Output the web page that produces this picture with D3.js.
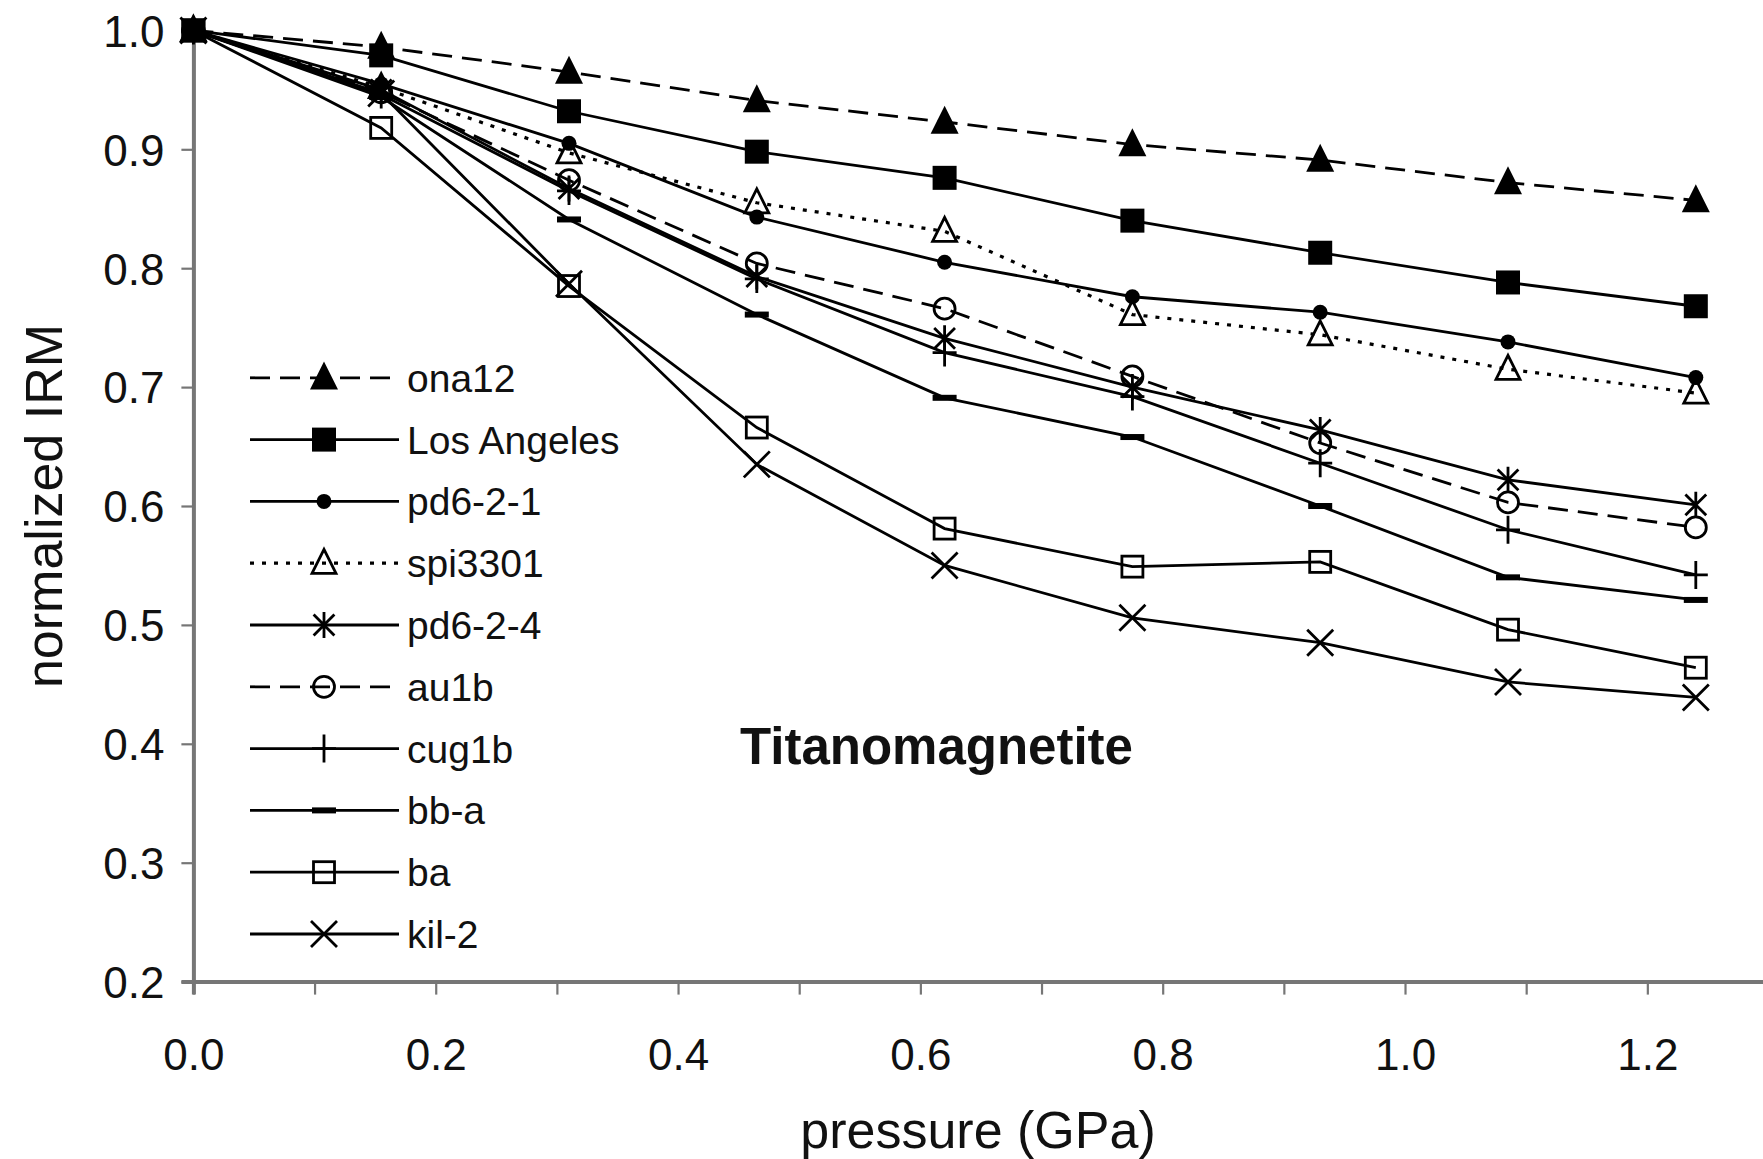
<!DOCTYPE html>
<html><head><meta charset="utf-8">
<script src="https://cdn.jsdelivr.net/npm/d3@7"></script>
<style>
html,body{margin:0;padding:0;background:#fff;}
svg text{font-family:"Liberation Sans",Arial,Helvetica,sans-serif;fill:#111;}
</style></head>
<body>
<svg id="chart" width="1763" height="1159"></svg>
<script>
// ---- data ----
const pressure = [0, 0.155, 0.31, 0.465, 0.62, 0.775, 0.93, 1.085, 1.24];
const seriesNames = ["ona12","Los Angeles","pd6-2-1","spi3301","pd6-2-4","au1b","cug1b","bb-a","ba","kil-2"];
const ona12      = [1.0, 0.986, 0.965, 0.941, 0.923, 0.904, 0.891, 0.872, 0.857];
const losAngeles = [1.0, 0.979, 0.932, 0.898, 0.876, 0.840, 0.813, 0.788, 0.768];
const pd6_2_1    = [1.0, 0.955, 0.905, 0.843, 0.805, 0.776, 0.763, 0.738, 0.708];
const spi3301    = [1.0, 0.952, 0.897, 0.855, 0.831, 0.761, 0.744, 0.715, 0.695];
const pd6_2_4    = [1.0, 0.950, 0.867, 0.793, 0.741, 0.700, 0.664, 0.622, 0.601];
const au1b       = [1.0, 0.948, 0.874, 0.804, 0.766, 0.709, 0.653, 0.603, 0.582];
const cug1b      = [1.0, 0.946, 0.865, 0.791, 0.729, 0.692, 0.636, 0.580, 0.542];
const bb_a       = [1.0, 0.944, 0.841, 0.761, 0.691, 0.658, 0.600, 0.540, 0.521];
const ba         = [1.0, 0.918, 0.785, 0.666, 0.581, 0.549, 0.553, 0.496, 0.464];
const kil_2      = [1.0, 0.947, 0.787, 0.635, 0.550, 0.506, 0.485, 0.452, 0.439];
const xTicks = [0, 0.2, 0.4, 0.6, 0.8, 1.0, 1.2];
const xMinorTicks = [0,0.1,0.2,0.3,0.4,0.5,0.6,0.7,0.8,0.9,1.0,1.1,1.2];
const yTicks = [0.2,0.3,0.4,0.5,0.6,0.7,0.8,0.9,1.0];
const xTitle = "pressure (GPa)";
const yTitle = "normalized IRM";
const chartLabel = "Titanomagnetite";

const values = [ona12, losAngeles, pd6_2_1, spi3301, pd6_2_4, au1b, cug1b, bb_a, ba, kil_2];
// styles per series
const styles = [
  {dash:"20,10", marker:"triFill"},
  {dash:null, marker:"sqFill"},
  {dash:null, marker:"circFill"},
  {dash:"4,8", marker:"triOpen"},
  {dash:null, marker:"star"},
  {dash:"20,10", marker:"circOpen"},
  {dash:null, marker:"plus"},
  {dash:null, marker:"dash"},
  {dash:null, marker:"sqOpen"},
  {dash:null, marker:"cross"}
];

const svg = d3.select("#chart");
const x = d3.scaleLinear().domain([0, 1.3]).range([193.4, 1768.5]);
const y = d3.scaleLinear().domain([0.2, 1.0]).range([981.6, 30.4]);
const axisColor = "#767676";
const LW = 2.8;

// axes
const gx = svg.append("g").attr("transform", `translate(0,${y(0.2)})`)
  .call(d3.axisBottom(x).tickValues(xMinorTicks).tickSize(13).tickFormat(""));
gx.select(".domain").attr("stroke", axisColor).attr("stroke-width", 4);
gx.selectAll(".tick line").attr("stroke", axisColor).attr("stroke-width", 2.2);
const gxl = svg.append("g").attr("transform", `translate(0,${y(0.2)})`)
  .call(d3.axisBottom(x).tickValues(xTicks).tickSize(0).tickPadding(57).tickFormat(d3.format(".1f")));
gxl.select(".domain").remove();
gxl.selectAll("text").attr("font-size", 44).attr("fill", "#111").style("font-family", "'Liberation Sans',Arial,sans-serif");

const gy = svg.append("g").attr("transform", `translate(${x(0)},0)`)
  .call(d3.axisLeft(y).tickValues(yTicks).tickSize(12).tickPadding(17).tickFormat(d3.format(".1f")));
gy.select(".domain").attr("stroke", axisColor).attr("stroke-width", 4);
gy.selectAll(".tick line").attr("stroke", axisColor).attr("stroke-width", 2.2);
gy.selectAll("text").attr("font-size", 44).attr("fill", "#111").attr("dy", "0.36em").style("font-family", "'Liberation Sans',Arial,sans-serif");

// titles
svg.append("text").attr("x", 978).attr("y", 1148).attr("text-anchor", "middle")
  .attr("font-size", 52).text(xTitle);
svg.append("text").attr("transform", "translate(62,506) rotate(-90)").attr("text-anchor", "middle")
  .attr("font-size", 52).text(yTitle);
svg.append("text").attr("x", 740).attr("y", 764).attr("font-size", 51).attr("font-weight", "bold").text(chartLabel);

// marker drawer
function drawMarker(g, type, cx, cy) {
  const sw = 2.8;
  switch (type) {
    case "triFill": {
      const s = 28;
      g.append("path").attr("d", `M${cx},${cy - s*0.58}L${cx + s/2},${cy + s*0.42}L${cx - s/2},${cy + s*0.42}Z`).attr("fill", "#000");
      break; }
    case "triOpen": {
      const s = 24;
      g.append("path").attr("d", `M${cx},${cy - s*0.58}L${cx + s/2},${cy + s*0.42}L${cx - s/2},${cy + s*0.42}Z`)
        .attr("fill", "none").attr("stroke", "#000").attr("stroke-width", sw);
      break; }
    case "sqFill": {
      const s = 24;
      g.append("rect").attr("x", cx - s/2).attr("y", cy - s/2).attr("width", s).attr("height", s).attr("fill", "#000");
      break; }
    case "sqOpen": {
      const s = 21;
      g.append("rect").attr("x", cx - s/2).attr("y", cy - s/2).attr("width", s).attr("height", s)
        .attr("fill", "none").attr("stroke", "#000").attr("stroke-width", sw);
      break; }
    case "circFill":
      g.append("circle").attr("cx", cx).attr("cy", cy).attr("r", 7.5).attr("fill", "#000");
      break;
    case "circOpen":
      g.append("circle").attr("cx", cx).attr("cy", cy).attr("r", 10.5).attr("fill", "none").attr("stroke", "#000").attr("stroke-width", sw);
      break;
    case "star": {
      const r = 13;
      const d = r * 0.8;
      g.append("path").attr("d", `M${cx},${cy - r}V${cy + r}M${cx - d},${cy - d}L${cx + d},${cy + d}M${cx - d},${cy + d}L${cx + d},${cy - d}`)
        .attr("stroke", "#000").attr("stroke-width", sw).attr("fill", "none");
      break; }
    case "plus": {
      g.append("path").attr("d", `M${cx},${cy - 14}V${cy + 14}M${cx - 12},${cy}H${cx + 12}`)
        .attr("stroke", "#000").attr("stroke-width", sw).attr("fill", "none");
      break; }
    case "dash":
      g.append("rect").attr("x", cx - 12).attr("y", cy - 3).attr("width", 24).attr("height", 6).attr("fill", "#000");
      break;
    case "cross": {
      const r = 13;
      g.append("path").attr("d", `M${cx - r},${cy - r}L${cx + r},${cy + r}M${cx - r},${cy + r}L${cx + r},${cy - r}`)
        .attr("stroke", "#000").attr("stroke-width", sw).attr("fill", "none");
      break; }
  }
}

const line = d3.line().x(d => x(d[0])).y(d => y(d[1]));
const plot = svg.append("g");
values.forEach((vals, i) => {
  const pts = pressure.map((p, j) => [p, vals[j]]);
  const g = plot.append("g");
  const path = g.append("path").attr("d", line(pts)).attr("fill", "none")
    .attr("stroke", "#000").attr("stroke-width", styles[i].dash === "4,8" ? 3.2 : LW);
  if (styles[i].dash) path.attr("stroke-dasharray", styles[i].dash);
  pts.forEach(p => drawMarker(g, styles[i].marker, x(p[0]), y(p[1])));
});

// legend
const leg = svg.append("g");
const legY0 = 377.8, legStep = 61.8;
seriesNames.forEach((name, i) => {
  const ly = legY0 + i * legStep;
  const g = leg.append("g");
  const l = g.append("line").attr("x1", 250).attr("x2", 399).attr("y1", ly).attr("y2", ly)
    .attr("stroke", "#000").attr("stroke-width", styles[i].dash === "4,8" ? 3.2 : LW);
  if (styles[i].dash) l.attr("stroke-dasharray", styles[i].dash);
  drawMarker(g, styles[i].marker, 324, ly);
  g.append("text").attr("x", 407).attr("y", ly).attr("dy", "0.36em").attr("font-size", 39).text(name);
});
</script>
</body></html>
